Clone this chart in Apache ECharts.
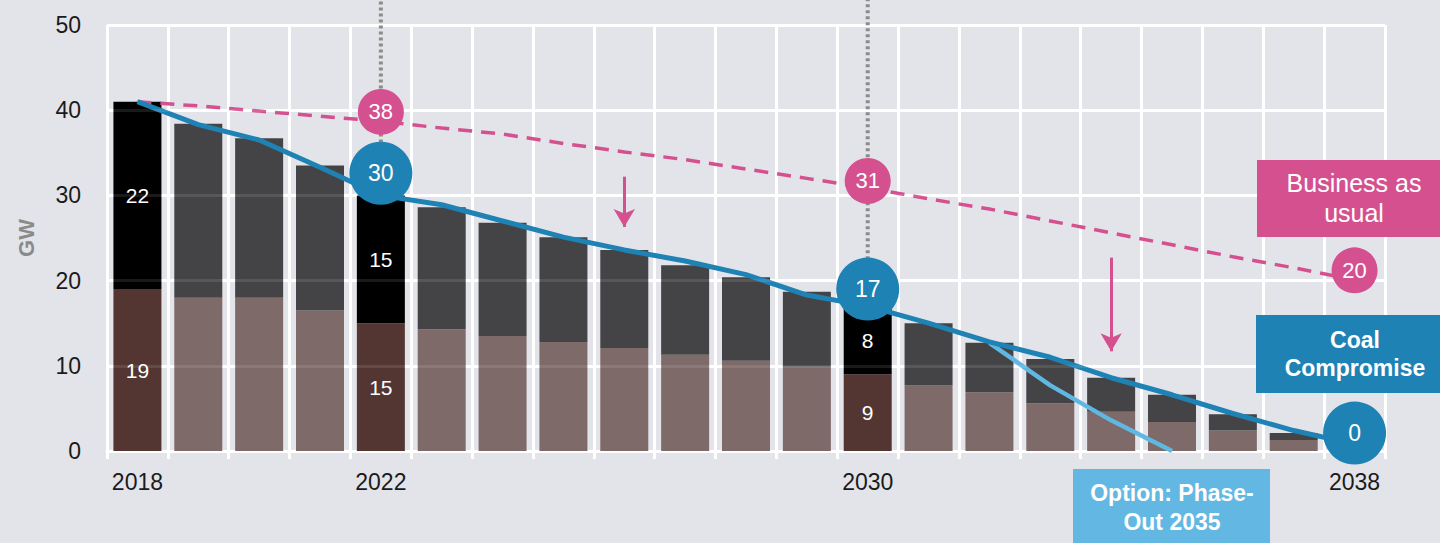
<!DOCTYPE html>
<html lang="en" style="height: 100%">
<head>
    <meta charset="utf-8">
    <title>Coal phase-out</title>
    <script src="https://cdn.jsdelivr.net/npm/echarts@6/dist/echarts.min.js"></script>
</head>
<body style="height: 100%; margin: 0; background: #e3e4e9">
<div id="main" style="width: 1440px; height: 543px"></div>
<script type="text/javascript">
    // data
    var years = ['2018', '2019', '2020', '2021', '2022', '2023', '2024', '2025', '2026', '2027', '2028',
        '2029', '2030', '2031', '2032', '2033', '2034', '2035', '2036', '2037', '2038'];
    var xTickLabels = ['2018', '2022', '2030', '2038'];
    var yGridOverBars = [10, 20, 30, 40];
    var highlightYears = ['2018', '2022', '2030'];
    var lignite = [19, 18, 18, 16.5, 15, 14.3, 13.5, 12.8, 12.1, 11.3, 10.6, 9.9, 9, 7.7, 6.9, 5.6, 4.6, 3.4, 2.4, 1.3, 0];
    var hardCoal = [22, 20.4, 18.7, 17, 15, 14.3, 13.3, 12.3, 11.5, 10.5, 9.8, 8.8, 8, 7.3, 5.8, 5.2, 4.0, 3.2, 1.9, 0.8, 0];
    var businessAsUsual = [41, 40.5, 39.9, 39.3, 38.7, 37.9, 37.2, 36.1, 35.1, 34.2, 33.1, 32.0, 30.9, 29.6, 28.4, 27.0, 25.6, 24.2, 22.8, 21.5, 20.1];
    var coalCompromise = [41, 38.3, 36.5, 33.3, 30, 28.9, 27.0, 25.1, 23.6, 22.3, 20.7, 18.3, 17, 15, 12.8, 11.0, 8.6, 6.6, 4.4, 2.4, 0.8];
    var phaseOut2035 = [null, null, null, null, null, null, null, null, null, null, null, null, null, null, 12.7, 7.7, 3.6, 0, null, null, null];

    // bubbles
    var bubbleYears = ['2022', '2030', '2038'];
    var bauBubbleY = [39.8, 31.7, 21.2];
    var bauBubbleText = ['38', '31', '20'];
    var ccBubbleY = [32.6, 19.0, 2.1];
    var ccBubbleText = ['30', '17', '0'];

    // dotted markers and arrows [year, from, to]
    var dottedMarks = [['2022', 35.5, 53], ['2030', 22.5, 53]];
    var arrows = [['2026', 32.2, 26.3], ['2034', 22.7, 11.7]];

    var FONT = "'Liberation Sans', Arial, sans-serif";
    var PINK = '#d4508f';
    var BLUE = '#1f82b4';
    var LIGHT = '#5fb7e2';

    function barData(values, normal, strong) {
        return values.map(function (v, i) {
            var hi = highlightYears.indexOf(years[i]) >= 0;
            return {
                value: v,
                itemStyle: {color: hi ? strong : normal},
                label: {show: hi}
            };
        });
    }

    function bubbles(ys, texts) {
        return ys.map(function (y, i) {
            return {value: [bubbleYears[i], y], label: {formatter: texts[i]}};
        });
    }

    var series = [
        {
            type: 'bar', stack: 'coal', barWidth: 48, silent: true,
            data: barData(lignite, '#7e6a69', '#533632'),
            label: {position: 'inside', color: '#fff', fontSize: 21, fontFamily: FONT}
        },
        {
            type: 'bar', stack: 'coal', barWidth: 48, silent: true,
            data: barData(hardCoal, '#444446', '#000000'),
            label: {position: 'inside', color: '#fff', fontSize: 21, fontFamily: FONT},
            // faint grid showing through the bars
            markLine: {
                silent: true, symbol: 'none', label: {show: false},
                lineStyle: {color: '#ffffff', width: 3, type: 'solid', opacity: 0.1},
                data: yGridOverBars.map(function (v) { return {yAxis: v}; })
            }
        },
        {
            type: 'line', data: businessAsUsual, symbol: 'none', silent: true, z: 3,
            lineStyle: {color: PINK, width: 3.5, type: [14, 9]}
        },
        {
            type: 'line', data: phaseOut2035, symbol: 'none', connectNulls: true, silent: true, z: 3,
            lineStyle: {color: LIGHT, width: 4.5}
        },
        {
            type: 'line', data: coalCompromise, symbol: 'none', silent: true, z: 4,
            lineStyle: {color: BLUE, width: 5}
        },
        {
            type: 'line', data: [], silent: true, z: 4,
            markLine: {
                silent: true,
                symbol: ['none', 'arrow'],
                symbolSize: [16, 18],
                label: {show: false},
                lineStyle: {color: PINK, width: 3, type: 'solid'},
                data: arrows.map(function (a) {
                    return [{coord: [a[0], a[1]]}, {coord: [a[0], a[2]]}];
                })
            }
        }
    ];

    dottedMarks.forEach(function (m) {
        series.push({
            type: 'line', symbol: 'none', clip: false, silent: true, z: 5,
            data: [[m[0], m[1]], [m[0], m[2]]],
            lineStyle: {color: '#8c8c8c', width: 4, type: [3, 3]}
        });
    });

    series.push({
        type: 'scatter', symbolSize: 46, silent: true, z: 6,
        itemStyle: {color: PINK, opacity: 1},
        label: {show: true, position: 'inside', color: '#fff', fontSize: 22, fontFamily: FONT},
        data: bubbles(bauBubbleY, bauBubbleText)
    });
    series.push({
        type: 'scatter', symbolSize: 63, silent: true, z: 6,
        itemStyle: {color: BLUE, opacity: 1},
        label: {show: true, position: 'inside', color: '#fff', fontSize: 23, fontFamily: FONT},
        data: bubbles(ccBubbleY, ccBubbleText)
    });

    function box(x, y, w, h, fill) {
        return {type: 'rect', z: 100, silent: true, shape: {x: x, y: y, width: w, height: h}, style: {fill: fill}};
    }

    function boxText(x, y, text, font, lh) {
        return {
            type: 'text', z: 101, silent: true, x: x, y: y,
            style: {
                text: text, fill: '#fff', font: font,
                align: 'center', verticalAlign: 'middle', lineHeight: lh
            }
        };
    }

    var chart = echarts.init(document.getElementById('main'), null, {renderer: 'svg'});
    var option = {
        backgroundColor: '#e3e4e9',
        animation: false,
        grid: {left: 107, right: 55, top: 25, bottom: 92},
        xAxis: {
            type: 'category',
            data: years,
            axisLine: {lineStyle: {color: '#ffffff', width: 3}},
            axisTick: {show: true, interval: 0, length: 8, lineStyle: {color: '#ffffff', width: 3}},
            splitLine: {show: true, interval: 0, lineStyle: {color: '#ffffff', width: 3}},
            axisLabel: {
                interval: 0, margin: 19, fontSize: 23, color: '#1a1a1a', fontFamily: FONT,
                formatter: function (v) {
                    return xTickLabels.indexOf(v) >= 0 ? v : '';
                }
            }
        },
        yAxis: {
            type: 'value',
            min: 0, max: 50, interval: 10,
            name: 'GW',
            nameLocation: 'middle',
            nameGap: 70,
            nameTextStyle: {color: '#8a8a8a', fontSize: 22, fontWeight: 'bold', fontFamily: FONT},
            axisLine: {show: false},
            axisTick: {show: false},
            axisLabel: {margin: 26, fontSize: 23, color: '#1a1a1a', fontFamily: FONT},
            splitLine: {lineStyle: {color: '#ffffff', width: 3}}
        },
        graphic: [
            box(1257, 160, 183, 77, PINK),
            boxText(1354, 198, 'Business as\nusual', '25px ' + FONT, 30),
            box(1256, 315, 184, 78, BLUE),
            boxText(1355, 354, 'Coal\nCompromise', 'bold 23px ' + FONT, 28),
            box(1073, 469, 197, 74, '#62b8e2'),
            boxText(1172, 507, 'Option: Phase-\nOut 2035', 'bold 23px ' + FONT, 29)
        ],
        series: series
    };
    chart.setOption(option);
</script>
</body>
</html>
